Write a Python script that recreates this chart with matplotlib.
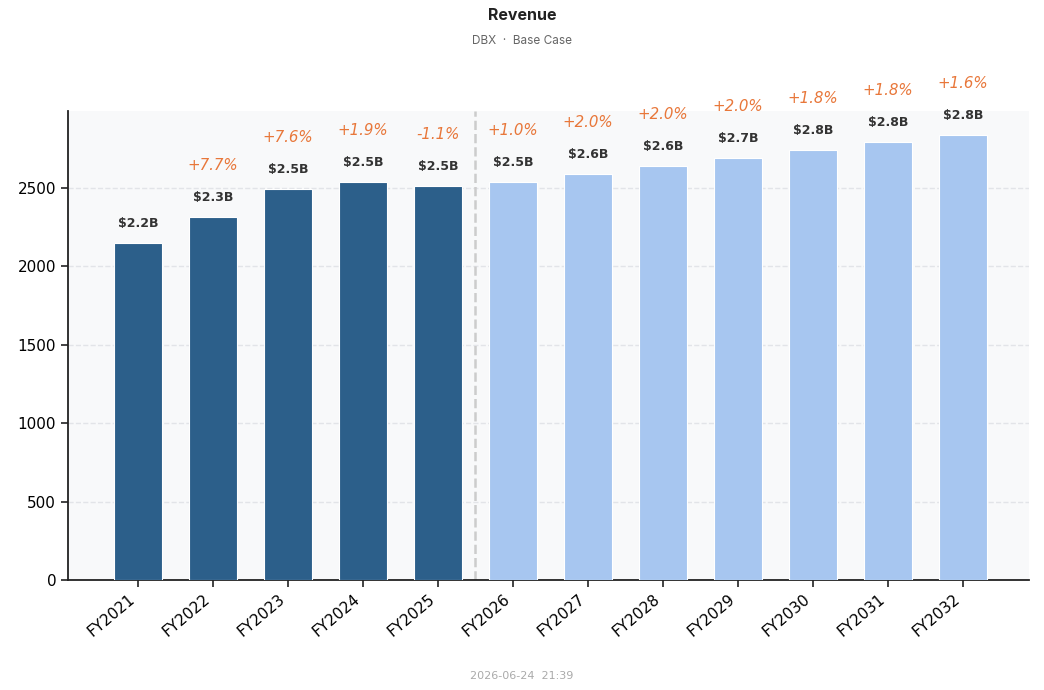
import numpy as np
import matplotlib.pyplot as plt

# Revenue data (millions), actuals FY2021-FY2025, projections after
years = ['FY2021', 'FY2022', 'FY2023', 'FY2024', 'FY2025', 'FY2026',
         'FY2027', 'FY2028', 'FY2029', 'FY2030', 'FY2031', 'FY2032']
revenue = [2150, 2316, 2492, 2540, 2513, 2538, 2589, 2641, 2693, 2742, 2792, 2838]
value_labels = ['$2.2B', '$2.3B', '$2.5B', '$2.5B', '$2.5B', '$2.5B',
                '$2.6B', '$2.6B', '$2.7B', '$2.8B', '$2.8B', '$2.8B']
growth_labels = ['', '+7.7%', '+7.6%', '+1.9%', '-1.1%', '+1.0%',
                 '+2.0%', '+2.0%', '+2.0%', '+1.8%', '+1.8%', '+1.6%']
n_actual = 5

fig = plt.figure(figsize=(10.44, 6.9), dpi=100)
ax = fig.add_axes([68 / 1044, 1 - 580 / 690, (1029 - 68) / 1044, (580 - 111) / 690])
ax.set_facecolor('#f8f9fa')

x = np.arange(len(years))
colors = ['#2c5f8a' if i < n_actual else '#a7c6f0' for i in x]
ax.bar(x, revenue, width=0.64, color=colors, edgecolor='white', linewidth=0.8, zorder=3)

for i, v in enumerate(revenue):
    ax.annotate(value_labels[i], (i, v), xytext=(0, 14), textcoords='offset points',
                ha='center', va='center', fontsize=9, fontweight='bold', color='#333333')
    if growth_labels[i]:
        ax.annotate(growth_labels[i], (i, v), xytext=(0, 37), textcoords='offset points',
                    ha='center', va='center', fontsize=10.8, fontstyle='italic', color='#e8773a')

ax.axvline(n_actual - 0.5, color='#cccccc', linestyle='--', linewidth=1.8, zorder=2)

ax.set_xlim(-0.93, len(years) - 1 + 0.88)
ax.set_ylim(0, 2990)
ax.set_yticks([0, 500, 1000, 1500, 2000, 2500])
ax.set_xticks(x)
ax.set_xticklabels(years, rotation=40, ha='right', fontsize=11)
ax.tick_params(axis='y', labelsize=11)
ax.tick_params(axis='both', length=5, width=1.2, color='#222222')
ax.yaxis.grid(True, linestyle='--', color='#e2e4e8', linewidth=1, zorder=0)
ax.set_axisbelow(True)
for s in ['top', 'right']:
    ax.spines[s].set_visible(False)
for s in ['left', 'bottom']:
    ax.spines[s].set_linewidth(1.3)
    ax.spines[s].set_color('#222222')

fig.text(0.5, 1 - 16 / 690, 'Revenue', ha='center', va='center', fontsize=11.5,
         fontweight='bold', color='#222222', family='Inter')
fig.text(0.5, 1 - 41 / 690, 'DBX  ·  Base Case', ha='center', va='center', fontsize=8.5,
         color='#666666', family='Inter')
fig.text(0.5, 1 - 676 / 690, '2026-06-24  21:39', ha='center', va='center', fontsize=8,
         color='#aaaaaa', family='Liberation Sans Narrow')

fig.savefig('out.png', dpi=100)
